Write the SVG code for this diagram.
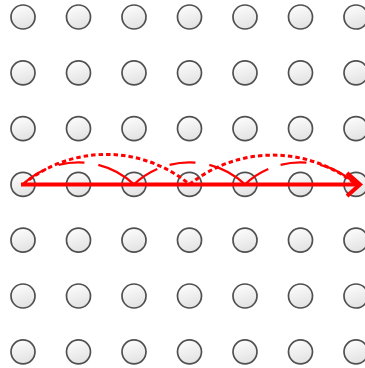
<svg xmlns="http://www.w3.org/2000/svg" width="365" height="368" viewBox="0 0 365 368">
<defs>
<linearGradient id="g" x1="0" y1="0" x2="0.3" y2="1">
<stop offset="0" stop-color="#ffffff"/>
<stop offset="1" stop-color="#e4e4e4"/>
</linearGradient>
<style>
.n{fill:url(#g);stroke:#505050;stroke-width:1.7}
.solid{fill:none;stroke:#ff0000;stroke-width:4}
.hop{fill:none;stroke:#ff0000;stroke-width:2.2;stroke-dasharray:28 13 26 14 80}
.dot{fill:none;stroke:#ff0000;stroke-width:3;stroke-dasharray:4.5 3}
</style>
</defs>
<rect width="365" height="368" fill="#ffffff"/>
<g id="nodes">
<g id="r0"><circle class="n" cx="23" cy="17" r="12"/><circle class="n" cx="78.5" cy="17" r="12"/><circle class="n" cx="134" cy="17" r="12"/><circle class="n" cx="189.5" cy="17" r="12"/><circle class="n" cx="245" cy="17" r="12"/><circle class="n" cx="300.5" cy="17" r="12"/><circle class="n" cx="356" cy="17" r="12"/></g>
<g id="r1"><circle class="n" cx="23" cy="72.8" r="12"/><circle class="n" cx="78.5" cy="72.8" r="12"/><circle class="n" cx="134" cy="72.8" r="12"/><circle class="n" cx="189.5" cy="72.8" r="12"/><circle class="n" cx="245" cy="72.8" r="12"/><circle class="n" cx="300.5" cy="72.8" r="12"/><circle class="n" cx="356" cy="72.8" r="12"/></g>
<g id="r2"><circle class="n" cx="23" cy="128.6" r="12"/><circle class="n" cx="78.5" cy="128.6" r="12"/><circle class="n" cx="134" cy="128.6" r="12"/><circle class="n" cx="189.5" cy="128.6" r="12"/><circle class="n" cx="245" cy="128.6" r="12"/><circle class="n" cx="300.5" cy="128.6" r="12"/><circle class="n" cx="356" cy="128.6" r="12"/></g>
<g id="r3"><circle class="n" cx="23" cy="184.4" r="12"/><circle class="n" cx="78.5" cy="184.4" r="12"/><circle class="n" cx="134" cy="184.4" r="12"/><circle class="n" cx="189.5" cy="184.4" r="12"/><circle class="n" cx="245" cy="184.4" r="12"/><circle class="n" cx="300.5" cy="184.4" r="12"/><circle class="n" cx="356" cy="184.4" r="12"/></g>
<g id="r4"><circle class="n" cx="23" cy="240.2" r="12"/><circle class="n" cx="78.5" cy="240.2" r="12"/><circle class="n" cx="134" cy="240.2" r="12"/><circle class="n" cx="189.5" cy="240.2" r="12"/><circle class="n" cx="245" cy="240.2" r="12"/><circle class="n" cx="300.5" cy="240.2" r="12"/><circle class="n" cx="356" cy="240.2" r="12"/></g>
<g id="r5"><circle class="n" cx="23" cy="296" r="12"/><circle class="n" cx="78.5" cy="296" r="12"/><circle class="n" cx="134" cy="296" r="12"/><circle class="n" cx="189.5" cy="296" r="12"/><circle class="n" cx="245" cy="296" r="12"/><circle class="n" cx="300.5" cy="296" r="12"/><circle class="n" cx="356" cy="296" r="12"/></g>
<g id="r6"><circle class="n" cx="23" cy="351.8" r="12"/><circle class="n" cx="78.5" cy="351.8" r="12"/><circle class="n" cx="134" cy="351.8" r="12"/><circle class="n" cx="189.5" cy="351.8" r="12"/><circle class="n" cx="245" cy="351.8" r="12"/><circle class="n" cx="300.5" cy="351.8" r="12"/><circle class="n" cx="356" cy="351.8" r="12"/></g>
</g>
<g id="connectors">
<path class="hop" d="M23 184.4 A81 81 0 0 1 134 184.4"/>
<path class="hop" d="M134 184.4 A81 81 0 0 1 245 184.4"/>
<path class="hop" d="M245 184.4 A81 81 0 0 1 356 184.4"/>
<path class="dot" d="M23 184.4 A130.5 130.5 0 0 1 189.5 184.4"/>
<path class="dot" d="M189.5 184.4 A133 133 0 0 1 356 184.4"/>
<path class="solid" d="M21 184.4 H359"/>
<path class="solid" d="M347 173 L360 184.4 L347 196" stroke-linejoin="miter"/>
</g>
</svg>
